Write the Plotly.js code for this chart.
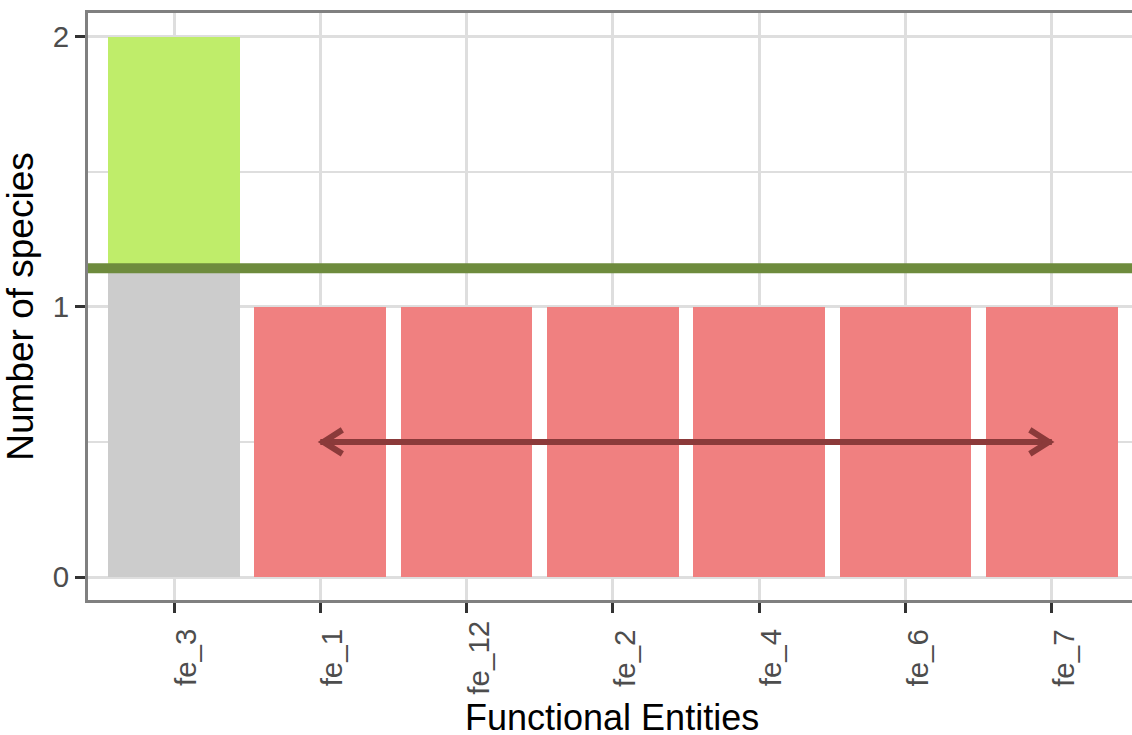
<!DOCTYPE html>
<html>
<head>
<meta charset="utf-8">
<script src="https://cdn.plot.ly/plotly-3.0.1.min.js"></script>
<style>
  html, body { margin: 0; padding: 0; background: #ffffff; }
  #chart { width: 1132px; height: 735px; }
</style>
</head>
<body>
<div id="chart"></div>
<script>
// ---- data ----
const categories = ["fe_3", "fe_1", "fe_12", "fe_2", "fe_4", "fe_6", "fe_7"];
const speciesCount = [2, 1, 1, 1, 1, 1, 1];
const yTickVals = [0, 1, 2];
const arrowFrom = "fe_1";
const arrowTo = "fe_7";
const arrowLevel = 0.5;
const xTitle = "Functional Entities";
const yTitle = "Number of species";

// ---- derived ----
const meanCount = speciesCount.reduce((a, b) => a + b, 0) / speciesCount.length;
const overX = [], overBase = [], overTop = [], underX = [], underY = [];
categories.forEach((c, i) => {
  if (speciesCount[i] > meanCount) {
    overX.push(c); overBase.push(meanCount); overTop.push(speciesCount[i] - meanCount);
  } else {
    underX.push(c); underY.push(speciesCount[i]);
  }
});

const FONT = "Liberation Sans, Arial, sans-serif";
const GRID = "#DEDEDE";

const traces = [
  { type: "bar", x: overX, y: overBase, width: 0.9, marker: { color: "#CCCCCC", line: { width: 0 } }, hoverinfo: "skip" },
  { type: "bar", x: overX, y: overTop, width: 0.9, marker: { color: "#BFED6A", line: { width: 0 } }, hoverinfo: "skip" },
  { type: "bar", x: underX, y: underY, width: 0.9, marker: { color: "#F08080", line: { width: 0 } }, hoverinfo: "skip" }
];

const i0 = categories.indexOf(arrowFrom);
const i1 = categories.indexOf(arrowTo);
const ARROW = "#8B3A3A";

const shapes = [
  { type: "line", xref: "paper", yref: "y", x0: 0, x1: 1, y0: meanCount, y1: meanCount,
    line: { color: "#6E8B3D", width: 10 } },
  { type: "line", xref: "x", yref: "y", x0: i0, x1: i1, y0: arrowLevel, y1: arrowLevel,
    line: { color: ARROW, width: 6 } },
  { type: "path", xref: "x", yref: "y", xsizemode: "pixel", ysizemode: "pixel",
    xanchor: i0, yanchor: arrowLevel, path: "M22,12 L3,0 L22,-12",
    line: { color: ARROW, width: 6 } },
  { type: "path", xref: "x", yref: "y", xsizemode: "pixel", ysizemode: "pixel",
    xanchor: i1, yanchor: arrowLevel, path: "M-22,12 L-3,0 L-22,-12",
    line: { color: ARROW, width: 6 } }
];

// x tick labels as centred rotated text (ggplot style)
const annotations = categories.map((c, i) => ({
  x: i, xref: "x", y: 0, yref: "paper",
  text: c, textangle: -90, showarrow: false,
  xanchor: "center", yanchor: "middle",
  xshift: 11, yshift: -58,
  font: { family: FONT, size: 29.5, color: "#4D4D4D" }
}));
annotations.push({
  x: 0.5, xref: "paper", y: 0, yref: "paper",
  text: xTitle, showarrow: false,
  xanchor: "center", yanchor: "middle",
  xshift: 2, yshift: -117,
  font: { family: FONT, size: 36, color: "#000000" }
});

const layout = {
  width: 1132, height: 735,
  margin: { l: 88, r: 0, t: 12.5, b: 135 },
  paper_bgcolor: "#ffffff", plot_bgcolor: "#ffffff",
  barmode: "stack",
  showlegend: false,
  font: { family: FONT },
  xaxis: {
    type: "category",
    categoryorder: "array", categoryarray: categories,
    range: [-0.588, 6.548],
    showgrid: true, gridcolor: GRID, gridwidth: 3,
    zeroline: false,
    showline: true, mirror: true, linecolor: "#808080", linewidth: 3,
    ticks: "outside", ticklen: 10, tickwidth: 3, tickcolor: "#333333",
    showticklabels: false,
    automargin: false
  },
  yaxis: {
    range: [-0.085, 2.087],
    tickvals: yTickVals,
    showgrid: true, gridcolor: GRID, gridwidth: 3,
    minor: { dtick: 0.5, showgrid: true, gridcolor: GRID, gridwidth: 2, ticks: "" },
    zeroline: false,
    showline: true, linecolor: "#808080", linewidth: 3,
    ticks: "outside", ticklen: 10, tickwidth: 3, tickcolor: "#333333",
    tickfont: { family: FONT, size: 29.5, color: "#4D4D4D" },
    title: { text: yTitle, font: { family: FONT, size: 37, color: "#000000" }, standoff: 12 },
    automargin: false
  },
  shapes: shapes,
  annotations: annotations
};

Plotly.newPlot("chart", traces, layout, { displayModeBar: false, staticPlot: true });
</script>
</body>
</html>
